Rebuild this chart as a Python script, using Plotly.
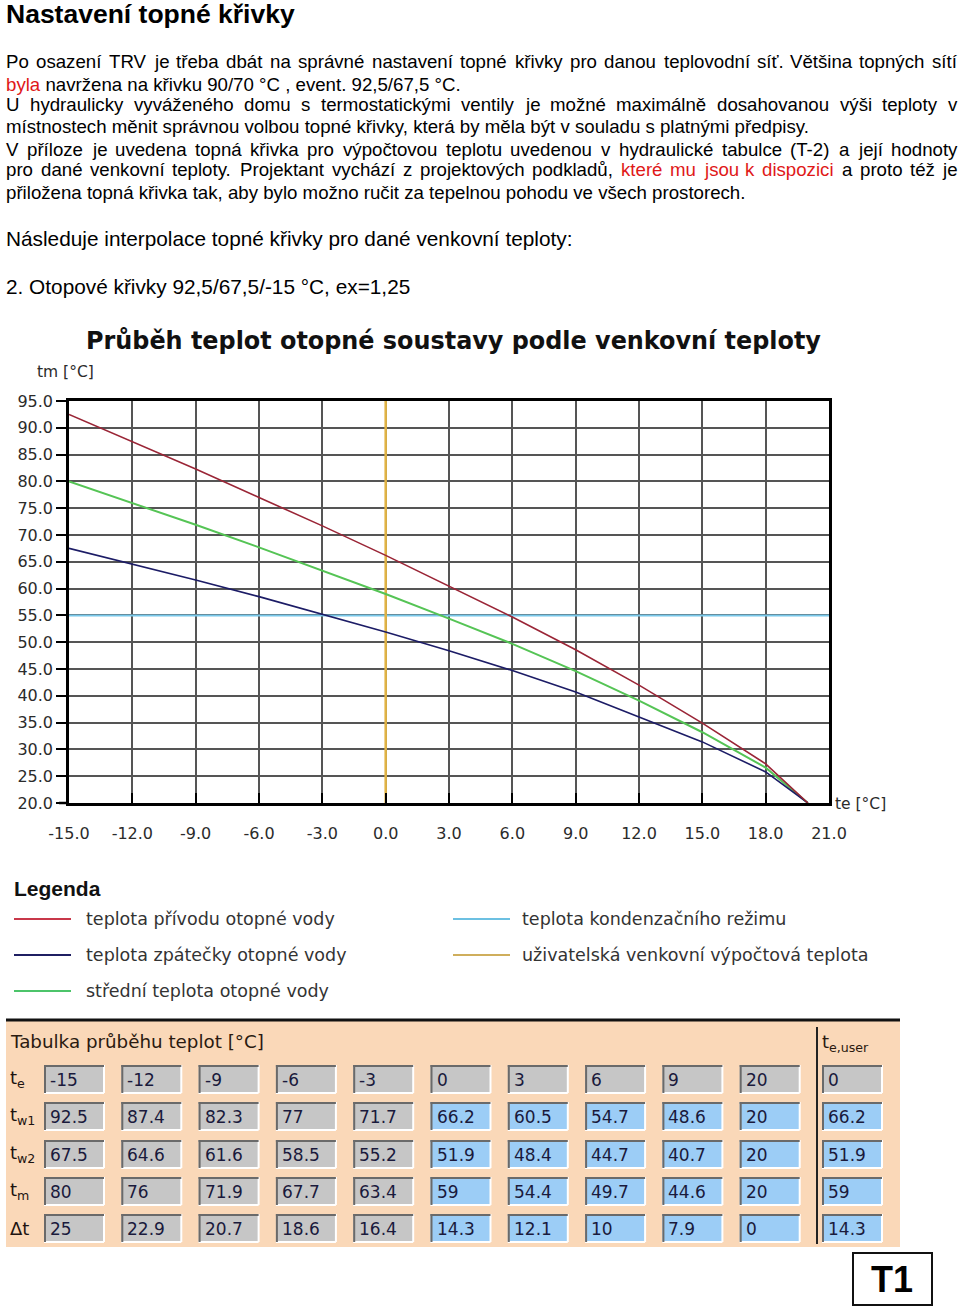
import plotly.graph_objects as go

# ---------------- data ----------------
curve_te = [-15, -12, -9, -6, -3, 0, 3, 6, 9, 12, 15, 18, 20]
curve_supply = [92.5, 87.4, 82.3, 77.0, 71.7, 66.2, 60.5, 54.7, 48.6, 42.0, 34.9, 27.3, 20.0]
curve_return = [67.5, 64.6, 61.6, 58.5, 55.2, 51.9, 48.4, 44.7, 40.7, 36.1, 31.4, 25.8, 20.0]
curve_mean = [80.0, 76.0, 71.9, 67.7, 63.4, 59.0, 54.4, 49.7, 44.6, 39.1, 33.2, 26.6, 20.0]
condensing_temp = 55
user_te = 0

x_ticks = [-15, -12, -9, -6, -3, 0, 3, 6, 9, 12, 15, 18, 21]
y_ticks = [20, 25, 30, 35, 40, 45, 50, 55, 60, 65, 70, 75, 80, 85, 90, 95]

table_te = [-15, -12, -9, -6, -3, 0, 3, 6, 9, 20]
table_tw1 = [92.5, 87.4, 82.3, 77, 71.7, 66.2, 60.5, 54.7, 48.6, 20]
table_tw2 = [67.5, 64.6, 61.6, 58.5, 55.2, 51.9, 48.4, 44.7, 40.7, 20]
table_tm = [80, 76, 71.9, 67.7, 63.4, 59, 54.4, 49.7, 44.6, 20]
table_dt = [25, 22.9, 20.7, 18.6, 16.4, 14.3, 12.1, 10, 7.9, 0]
user_col = [0, 66.2, 51.9, 59, 14.3]
row_labels = ["t<sub>e</sub>", "t<sub>w1</sub>", "t<sub>w2</sub>", "t<sub>m</sub>", "Δt"]

legend_items = [
    ("teplota přívodu otopné vody", "#c8384a"),
    ("teplota zpátečky otopné vody", "#1f1f62"),
    ("střední teplota otopné vody", "#4cc46a"),
    ("teplota kondenzačního režimu", "#6cc0e2"),
    ("uživatelská venkovní výpočtová teplota", "#cfae5c"),
]

# ---------------- helpers ----------------
W, H = 960, 1307
BODY = "Liberation Sans, Arial, sans-serif"
UI = "DejaVu Sans, Verdana, sans-serif"
RED = "#e01818"

def X(px):
    return px / W

def Y(py):
    return 1 - py / H

annotations = []
shapes = []

def ann(text, x, y, size, color="#000", family=BODY, xanchor="left", yanchor="middle"):
    annotations.append(dict(text=text, x=X(x), y=Y(y), xref="paper", yref="paper",
                            xanchor=xanchor, yanchor=yanchor, showarrow=False,
                            font=dict(size=size, color=color, family=family),
                            borderpad=0, borderwidth=0))

def line(x0, y0, x1, y1, color, width):
    shapes.append(dict(type="line", xref="paper", yref="paper", x0=X(x0), y0=Y(y0),
                       x1=X(x1), y1=Y(y1), line=dict(color=color, width=width)))

def rect(x0, y0, x1, y1, fill, lc="rgba(0,0,0,0)", lw=0):
    shapes.append(dict(type="rect", xref="paper", yref="paper", x0=X(x0), y0=Y(y0),
                       x1=X(x1), y1=Y(y1), fillcolor=fill, line=dict(color=lc, width=lw),
                       layer="below"))

# Arial advance widths (1/1000 em)
AW = {}
for ch in "abdeghnopquáéěůúň0123456789": AW[ch] = 556
for ch in "ckvsxyzýšžč": AW[ch] = 500
for ch in "ftť .,/:": AW[ch] = 278
for ch in "ijl": AW[ch] = 222
AW.update({"í": 278, "m": 833, "r": 333, "ř": 333, "w": 722, "ď": 615, "(": 333, ")": 333,
           "-": 333, "°": 400, "=": 584, "P": 667, "T": 611, "R": 722, "V": 667, "U": 722,
           "N": 722, "O": 778, "C": 722, "E": 667, "Ě": 667})

def tw(s, size):
    return sum(AW.get(ch, 556) for ch in s) / 1000 * size

def justified(words, y, size, x0=6, x1=957):
    ws = [tw(w, size) for w, _ in words]
    gap = (x1 - x0 - sum(ws)) / (len(words) - 1)
    x = x0
    for (w, c), wd in zip(words, ws):
        ann(w, x, y, size, color=c)
        x += wd + gap

def wl(s, color="#000"):
    return [(w, color) for w in s.split()]

# ---------------- document text ----------------
FS = 18.67
ann("<b>Nastavení topné křivky</b>", 6, 14, 26.5)
justified(wl("Po osazení TRV je třeba dbát na správné nastavení topné křivky pro danou teplovodní síť. Většina topných sítí"), 62, FS)
ann(f"<span style='color:{RED}'>byla</span> navržena na křivku 90/70 °C , event. 92,5/67,5 °C.", 6, 84, FS)
justified(wl("U hydraulicky vyváženého domu s termostatickými ventily je možné maximálně dosahovanou výši teploty v"), 105, FS)
ann("místnostech měnit správnou volbou topné křivky, která by měla být v souladu s platnými předpisy.", 6, 127, FS)
justified(wl("V příloze je uvedena topná křivka pro výpočtovou teplotu uvedenou v hydraulické tabulce (T-2) a její hodnoty"), 149, FS)
justified(wl("pro dané venkovní teploty. Projektant vychází z projektových podkladů,")
          + wl("které mu jsou k dispozici", RED) + wl("a proto též je"), 170, FS)
ann("přiložena topná křivka tak, aby bylo možno ručit za tepelnou pohodu ve všech prostorech.", 6, 192, FS)
ann("Následuje interpolace topné křivky pro dané venkovní teploty:", 6, 239, 20.8)
ann("2. Otopové křivky 92,5/67,5/-15 °C, ex=1,25", 6, 287, 20.8)

# ---------------- chart ----------------
ann("<b>Průběh teplot otopné soustavy podle venkovní teploty</b>", 86, 341, 23.9, color="#111", family=UI)
ann("tm [°C]", 37, 372, 15.5, color="#2b2b2b", family=UI)
ann("te [°C]", 835, 804, 15.5, color="#2b2b2b", family=UI)

fig = go.Figure()
fig.add_trace(go.Scatter(x=[x_ticks[0], x_ticks[-1]], y=[condensing_temp, condensing_temp],
                         mode="lines", line=dict(color="#78c8ea", width=2), hoverinfo="skip"))
fig.add_trace(go.Scatter(x=[user_te, user_te], y=[y_ticks[0], y_ticks[-1]],
                         mode="lines", line=dict(color="#e2b445", width=2.5), hoverinfo="skip"))
fig.add_trace(go.Scatter(x=curve_te, y=curve_mean, mode="lines",
                         line=dict(color="#55c455", width=2), name="tm"))
fig.add_trace(go.Scatter(x=curve_te, y=curve_return, mode="lines",
                         line=dict(color="#1c1c66", width=1.6), name="tw2"))
fig.add_trace(go.Scatter(x=curve_te, y=curve_supply, mode="lines",
                         line=dict(color="#9a2536", width=1.6), name="tw1"))

tickfont = dict(family=UI, size=16, color="#2b2b2b")
fig.update_layout(
    width=W, height=H, autosize=False, showlegend=False,
    margin=dict(l=0, r=0, t=0, b=0, pad=0, autoexpand=False),
    paper_bgcolor="white", plot_bgcolor="white",
    xaxis=dict(domain=[X(69), X(829)], range=[x_ticks[0], x_ticks[-1]],
               tickmode="array", tickvals=x_ticks, ticktext=[f"{v:.1f}" for v in x_ticks],
               ticks="inside", ticklen=10, tickwidth=2, tickcolor="black",
               showgrid=True, gridcolor="#555555", gridwidth=1.5,
               showline=True, linecolor="black", linewidth=2.5, mirror=True,
               zeroline=False, tickfont=tickfont, ticklabelstandoff=14, fixedrange=True,
               automargin=False),
    yaxis=dict(domain=[Y(803), Y(401)], range=[y_ticks[0], y_ticks[-1]],
               tickmode="array", tickvals=y_ticks, ticktext=[f"{v:.1f}" for v in y_ticks],
               ticks="outside", ticklen=10, tickwidth=2, tickcolor="black",
               showgrid=True, gridcolor="#555555", gridwidth=1.5,
               showline=True, linecolor="black", linewidth=2.5, mirror=True,
               zeroline=False, tickfont=tickfont, fixedrange=True, automargin=False),
)
# bottom axis line extends slightly left of the plot, as in the reference
line(59, 803, 69, 803, "black", 2.5)

# ---------------- legend ----------------
ann("<b>Legenda</b>", 14, 888, 21, color="#111")
legend_pos = [(14, 919, 72), (14, 955, 72), (14, 991, 72), (453, 919, 69), (453, 955, 69)]
for (label, color), (lx, ly, off) in zip(legend_items, legend_pos):
    line(lx, ly, lx + 57, ly, color, 2)
    ann(label, lx + off, ly, 17.5, color="#333", family=UI)

# ---------------- table ----------------
rect(6, 1020, 900, 1247, "#fad8b8")
line(6, 1020, 900, 1020, "#111", 3)
line(817, 1027, 817, 1244, "#222", 2)
ann("Tabulka průběhu teplot [°C]", 10, 1041, 18.3, color="#2a1a10", family=UI)
ann("t<sub>e,user</sub>", 822, 1043, 18, color="#2a1a10", family=UI)

col_x = [44 + 77.3 * i for i in range(10)] + [822]
row_y = [1065, 1102, 1140, 1177, 1214]
rows = [table_te, table_tw1, table_tw2, table_tm, table_dt]

def fmt(v):
    return str(int(v)) if float(v).is_integer() else str(v)

for r, (vals, lab) in enumerate(zip(rows, row_labels)):
    y0 = row_y[r]
    ann(lab, 10, y0 + 14, 18, color="#1e1410", family=UI)
    for c, v in enumerate(vals + [user_col[r]]):
        x0 = col_x[c]
        gray = (r == 0) or (c < 5)
        fill = "#c6c6c6" if gray else "#9ccdf6"
        rect(x0, y0, x0 + 60, y0 + 28, fill)
        line(x0, y0 + 28, x0 + 60, y0 + 28, "#ffffff", 2)
        line(x0 + 60, y0, x0 + 60, y0 + 28, "#ffffff", 2)
        line(x0, y0 + 1, x0 + 60, y0 + 1, "#6a6a6a", 2)
        line(x0 + 1, y0, x0 + 1, y0 + 28, "#6a6a6a", 2)
        ann(fmt(v), x0 + 6, y0 + 15, 17, color="#1a1a3c", family=UI)

# T1 box
rect(853, 1253, 932, 1305, "white", "#111", 2)
ann("<b>T1</b>", 892, 1279, 36, color="#000", xanchor="center")

fig.update_layout(annotations=annotations, shapes=shapes)
fig.write_html("out.html",
               post_script="document.body.style.margin='0';document.body.style.overflow='hidden';")
